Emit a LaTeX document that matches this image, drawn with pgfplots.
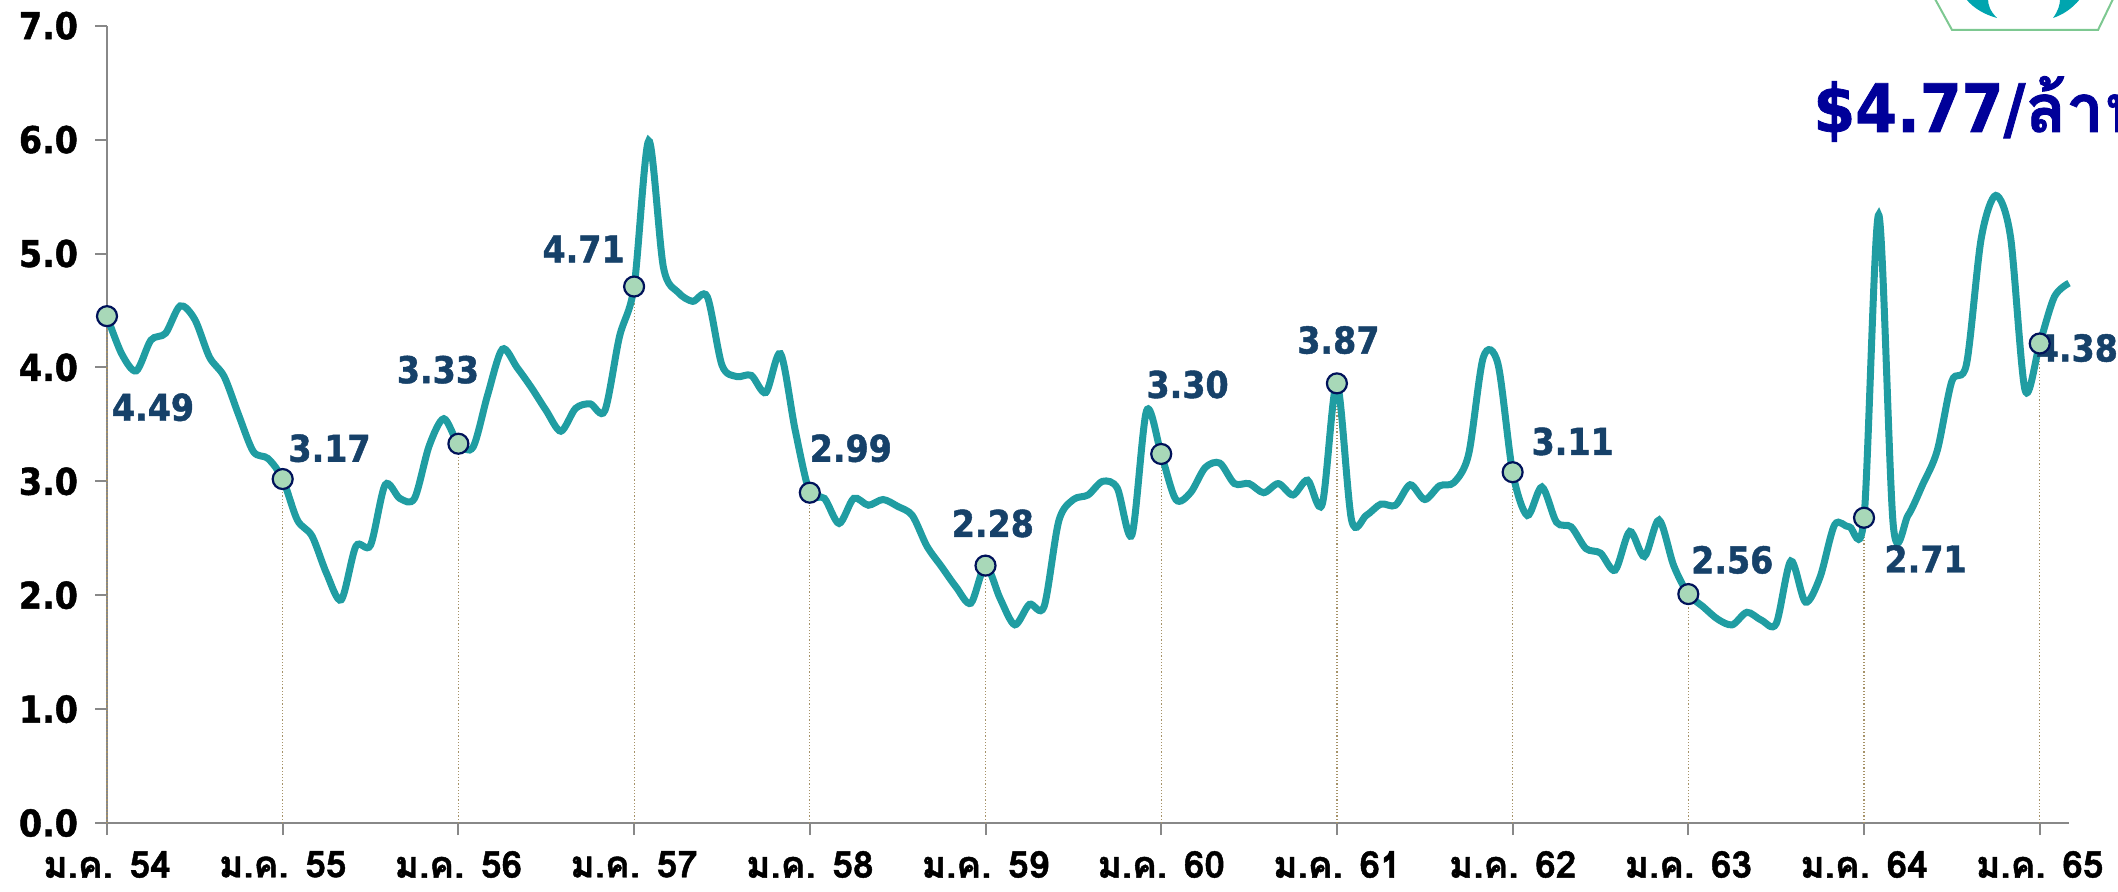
\documentclass[border=0pt]{standalone}
\usepackage{fontspec}
\setmainfont{DejaVu Sans Condensed}[BoldFeatures={FakeBold=1.2}]
\newfontfamily\thaifont[Script=Thai, BoldFeatures={FakeBold=1.2}]{Loma}
\usepackage{pgfplots}
\usepackage{pgfplotstable}
\pgfplotsset{compat=1.18}
\definecolor{linecol}{RGB}{32,157,162}
\definecolor{markfill}{RGB}{168,216,184}
\definecolor{marknavy}{RGB}{0,18,90}
\definecolor{labcol}{RGB}{22,65,105}
\definecolor{dropcol}{RGB}{166,146,104}
\definecolor{axgray}{RGB}{136,136,136}
\definecolor{bigblue}{RGB}{0,0,153}
\definecolor{logogreen}{RGB}{125,200,145}
\definecolor{logoteal}{RGB}{0,165,175}

\pgfplotstableread{
m v
0 4.45
1 4.12
2 3.97
3 4.24
4 4.30
5 4.54
6 4.42
7 4.09
8 3.92
9 3.58
10 3.26
11 3.20
12 3.02
13 2.66
14 2.52
15 2.19
16 1.96
17 2.43
18 2.44
19 2.97
20 2.85
21 2.85
22 3.31
23 3.55
24 3.33
25 3.30
26 3.76
27 4.16
28 4.00
29 3.82
30 3.62
31 3.44
32 3.64
33 3.68
34 3.62
35 4.27
36 4.71
37 5.99
38 4.88
39 4.66
40 4.58
41 4.62
42 4.02
43 3.92
44 3.93
45 3.78
46 4.12
47 3.45
48 2.90
49 2.85
50 2.63
51 2.85
52 2.79
53 2.84
54 2.78
55 2.70
56 2.43
57 2.25
58 2.07
59 1.93
60 2.26
61 1.97
62 1.74
63 1.92
64 1.90
65 2.65
66 2.84
67 2.88
68 3.00
69 2.94
70 2.53
71 3.62
72 3.24
73 2.84
74 2.90
75 3.12
76 3.16
77 2.98
78 2.98
79 2.90
80 2.98
81 2.88
82 3.01
83 2.80
84 3.86
85 2.66
86 2.70
87 2.80
88 2.79
89 2.97
90 2.84
91 2.96
92 2.99
93 3.24
94 4.09
95 4.03
96 3.08
97 2.70
98 2.95
99 2.64
100 2.60
101 2.41
102 2.37
103 2.22
104 2.56
105 2.34
106 2.66
107 2.26
108 2.01
109 1.90
110 1.79
111 1.74
112 1.85
113 1.78
114 1.75
115 2.30
116 1.94
117 2.16
118 2.62
119 2.60
120 2.68
121 5.34
122 2.61
123 2.70
124 2.97
125 3.27
126 3.88
127 4.03
128 5.13
129 5.51
130 5.15
131 3.80
132 4.21
133 4.62
134 4.74
}\pricedata

\pgfplotstableread{
m v
0 4.45
12 3.02
24 3.33
36 4.71
48 2.90
60 2.26
72 3.24
84 3.86
96 3.08
108 2.01
120 2.68
132 4.21
}\jandata

\begin{document}
\begin{tikzpicture}
\useasboundingbox (0,0) rectangle (1059pt,445.5pt);
% partial logo at top right
\draw[logogreen, line width=1pt] (967.5pt,446pt) -- (976pt,430.5pt) -- (1049pt,430.5pt) -- (1056.5pt,446pt);
\fill[logoteal] (983pt,446pt) .. controls (987pt,441pt) and (993pt,438pt) .. (998.5pt,436.5pt) .. controls (995pt,440pt) and (994pt,443pt) .. (994pt,446pt) -- cycle;
\fill[logoteal] (1040pt,446pt) .. controls (1036pt,441pt) and (1031pt,438pt) .. (1026.5pt,436.5pt) .. controls (1029pt,440pt) and (1030pt,443pt) .. (1030pt,446pt) -- cycle;
\node[anchor=base west, text=bigblue, font=\bfseries\fontsize{33.4}{36}\selectfont, inner sep=0pt] at (906.5pt,379.5pt) {\$4.77/{\thaifont\bfseries ล้านบีทียู}};
\begin{axis}[
  at={(53.5pt,34pt)}, anchor=south west,
  scale only axis, width=981pt, height=398.65pt,
  xmin=0, xmax=134, ymin=0, ymax=7,
  axis x line=bottom, axis y line=left,
  axis line style={-, axgray, line width=1pt},
  tick style={axgray, line width=1pt},
  tick align=outside, major tick length=6pt,
  xtick={0,12,...,132},
  xticklabels={ม.ค. 54,ม.ค. 55,ม.ค. 56,ม.ค. 57,ม.ค. 58,ม.ค. 59,ม.ค. 60,ม.ค. 61,ม.ค. 62,ม.ค. 63,ม.ค. 64,ม.ค. 65},
  xticklabel style={font=\thaifont\bfseries\fontsize{18.5}{20}\selectfont, text=black, yshift=-4.5pt},
  ytick={0,1,...,7},
  yticklabel style={font=\bfseries\fontsize{18.5}{20}\selectfont, text=black, xshift=-5pt, /pgf/number format/.cd, fixed, fixed zerofill, precision=1, assume math mode=true},
  clip=false,
]
\addplot[ycomb, draw=dropcol, densely dotted, line width=0.6pt, no marks] table[x=m,y=v] {\jandata};
\addplot[linecol, line width=3.5pt, smooth, tension=0.5, no marks] table[x=m,y=v] {\pricedata};
\begin{scope}[every node/.style={text=labcol, font=\bfseries\fontsize{18.5}{20}\selectfont, inner sep=0pt}]
\node at (axis cs:3.14,3.65) {4.49};
\node at (axis cs:15.2,3.29) {3.17};
\node at (axis cs:22.6,3.98) {3.33};
\node at (axis cs:32.55,5.04) {4.71};
\node at (axis cs:50.8,3.29) {2.99};
\node at (axis cs:60.5,2.63) {2.28};
\node at (axis cs:73.8,3.85) {3.30};
\node at (axis cs:84.1,4.24) {3.87};
\node at (axis cs:100.1,3.35) {3.11};
\node at (axis cs:111.0,2.31) {2.56};
\node at (axis cs:124.2,2.32) {2.71};
\node[anchor=west] at (axis cs:131.7,4.17) {4.38};
\end{scope}
\addplot[only marks, mark=*, mark size=5pt, mark options={fill=markfill, draw=marknavy, line width=1.1pt}] table[x=m,y=v] {\jandata};
\end{axis}
\end{tikzpicture}
\end{document}
